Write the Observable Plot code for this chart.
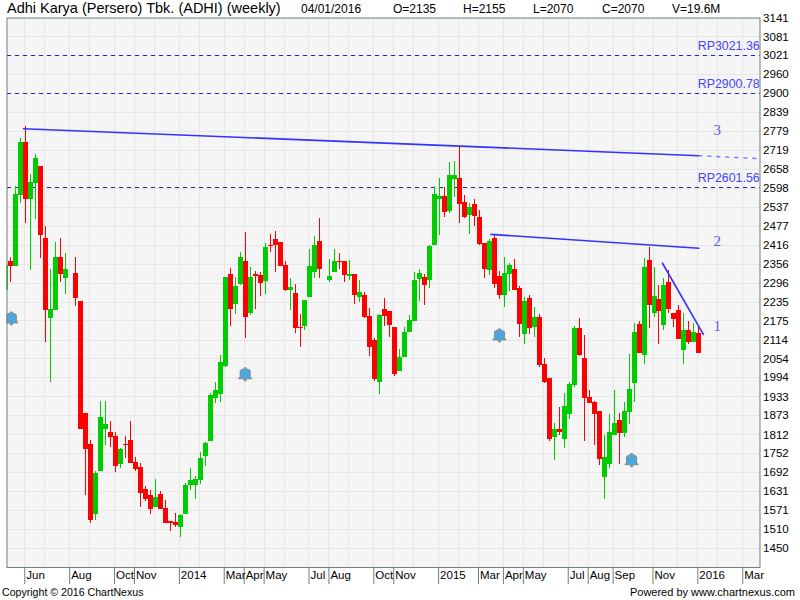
<!DOCTYPE html>
<html><head><meta charset="utf-8">
<script src="https://cdn.jsdelivr.net/npm/d3@7"></script>
<script src="https://cdn.jsdelivr.net/npm/@observablehq/plot@0.6"></script>
<style>
html,body{margin:0;padding:0;background:#fff;width:800px;height:600px;overflow:hidden;font-family:"Liberation Sans",Arial,sans-serif;color:#000}
#head{position:absolute;left:0;top:0;width:800px;height:17px;font-size:12px}
#head span{position:absolute;top:2px;white-space:nowrap;line-height:14px}
#head .t{font-size:14.5px;top:0;left:7px;line-height:17px}
#foot{position:relative;height:15px;font-size:11px}
#foot span{position:absolute;top:1px;white-space:nowrap;line-height:13px}
svg{display:block}
</style></head><body>
<div id="chart"></div><div id="head"></div>
<div id="foot"><span style="left:2px;font-size:10.6px">Copyright © 2016 ChartNexus</span><span style="right:5px">Powered by www.chartnexus.com</span></div>
<script>
// weekly candles; position k in each array is week k-1 (null = no candle drawn)
const opens=[2273,2365,2349,2576,2745,2563,2614,2668,2439,2183,
2209,2378,2311,null,2327,2238,1881,1782,1559,1696,
1830,1820,1807,1718,1782,1795,1724,1709,1638,1619,
1581,1622,1578,1536,1533,1517,1559,1651,1651,1667,
1744,1791,1928,1941,2030,2324,2228,2292,2365,2200,
2324,2321,2301,2416,2435,2426,2352,2273,2263,2155,
2158,2250,2330,2429,null,2305,2330,2365,2365,2317,
2324,2250,2257,2190,2113,1980,2212,2206,2155,2015,
2059,2139,2174,2308,2314,2305,2416,2563,2572,2525,
2627,2630,2553,2512,2547,2505,2423,2337,2439,2317,
2257,2324,2340,2279,2132,2247,2155,2187,2037,1992,
1804,1830,1798,1877,1970,2152,2056,1932,1916,1887,
1677,1718,1811,1858,1817,1884,1976,2164,2066,2368,
2200,2244,2161,2298,2200,2209,2081,2145,2107,2135];
const highs=[2352,2378,2604,2757,2796,2643,2706,2668,2477,2340,
2426,2439,2391,null,2378,2238,1881,1795,1696,1919,
1919,1855,1820,1769,1807,1855,1740,1721,1648,1635,
1670,1632,1603,1536,1562,1559,1657,1705,1680,1756,
1788,1944,1980,2066,2314,2343,2314,2394,2458,2346,
2333,2330,2423,2451,2461,2426,2365,2311,2292,2196,
2241,2403,2445,2502,null,2372,2403,2391,2365,2368,
2324,2305,2266,2215,2120,2196,2247,2206,2155,2085,
2155,2193,2330,2340,2324,2416,2604,2630,2601,2681,
2684,2732,2576,2550,2563,2528,2423,2435,2448,2333,
2378,2359,2372,2286,2250,2257,2219,2196,2056,1992,
1849,1900,1944,1980,2158,2183,2129,1954,1919,1887,
1811,1877,1954,1881,1916,2069,2168,2174,2375,2410,
2346,2289,2311,2337,2200,2225,2200,2174,2168,2155];
const lows=[2273,2298,2349,2550,2486,2337,2499,2375,2107,1980,
2209,2298,2260,null,2222,1830,1619,1530,1540,1696,
1779,1772,1693,1705,1737,1721,1696,1581,1600,1559,
1581,1575,1530,1504,1517,1485,1559,1635,1607,1654,
1712,1791,1912,1916,2027,2158,2196,2289,2120,2193,
2212,2254,2260,2394,2330,2349,2270,2209,2136,2091,
2145,2250,2311,2311,null,2298,2330,2340,2298,2305,
2228,2235,2183,2062,1983,1941,2158,2123,1999,2015,
2059,2139,2174,2238,2225,2279,2416,2448,2505,2518,
2569,2486,2502,2451,2477,2416,2311,2321,2279,2244,
2219,2270,2273,2123,2101,2132,2123,2027,1976,1791,
1731,1811,1769,1862,1964,2062,1791,1912,1779,1715,
1607,1705,1811,1718,1804,1846,1916,2072,2037,2152,
2187,2101,2145,2200,2155,2117,2037,2101,2107,2070];
const closes=[2352,2349,2579,2745,2563,2617,2694,2448,2209,2212,
2378,2324,2340,null,2247,1830,1766,1540,1689,1868,
1846,1804,1712,1766,1779,1721,1702,1626,1607,1575,
1613,1575,1530,1530,1524,1556,1651,1667,1670,1737,
1785,1938,1954,2043,2314,2212,2286,2378,2187,2314,
2317,2295,2410,2413,2416,2349,2273,2282,2152,2152,
2241,2349,2416,2340,null,2317,2365,2362,2321,2324,
2257,2266,2187,2091,1989,2193,2190,2161,2005,2059,
2139,2177,2305,2327,2289,2413,2579,2572,2521,2639,
2639,2547,2505,2537,2509,2419,2340,2429,2292,2257,
2327,2352,2273,2164,2238,2152,2187,2034,1980,1798,
1830,1820,1903,1973,2152,2066,1928,1912,1877,1734,
1740,1820,1849,1817,1887,1957,2139,2072,2346,2225,
2254,2206,2289,2212,2180,2117,2145,2107,2139,2070];

const candles=opens.map((open,k)=>({week:k-1,open,high:highs[k],low:lows[k],close:closes[k]})).filter(d=>d.open!=null);

const priceTicks=[3141,3081,3021,2960,2900,2839,2779,2719,2658,2598,2537,2477,2416,2356,2296,2235,2175,2114,2054,1994,1933,1873,1812,1752,1692,1631,1571,1510,1450];
const gridWeeks=[3,7,12,16,21,25,29,34,38,43,47,51,55,60,64,68,73,77,81,86,90,94,99,103,107,112,116,121,125,129,134,138,142,147];
const labelWeeks=[3,12,21,25,34,43,47,51,60,64,73,77,86,94,99,103,112,116,121,129,138,147];
const labelNames=["Jun","Aug","Oct","Nov","2014","Mar","Apr","May","Jul","Aug","Oct","Nov","2015","Mar","Apr","May","Jul","Aug","Sep","Nov","2016","Mar"];
const levels=[3021.36,2900.78,2601.56];
const trend3=[{x:2.54,y:2788},{x:138,y:2702}];
const trend3ext=[{x:138,y:2702},{x:149.7,y:2693}];
const trend2=[{x:96.3,y:2451},{x:138,y:2407}];
const trend1=[{x:130.7,y:2359},{x:138.9,y:2132}];
const trendLabels=[{x:141.7,y:2783,t:"3"},{x:141.7,y:2429,t:"2"},{x:141.7,y:2158,t:"1"}];
const bells=[{x:0.1,y:2183},{x:47,y:2005},{x:98,y:2129},{x:124.5,y:1731}];
const headItems=[["04/01/2016",301],["O=2135",393],["H=2155",463],["L=2070",533],["C=2070",602],["V=19.6M",672]];

const head=document.getElementById("head");
const tt=document.createElement("span");tt.className="t";tt.textContent="Adhi Karya (Persero) Tbk. (ADHI) (weekly)";head.append(tt);
for(const [s,l] of headItems){const e=document.createElement("span");e.textContent=s;e.style.left=l+"px";head.append(e);}

const bell={draw(c,size){
  const u=Math.sqrt(size/Math.PI)/7;
  c.moveTo(-1*u,-6.5*u);c.lineTo(1*u,-6.5*u);c.lineTo(1*u,-5*u);c.lineTo(3.5*u,-5*u);
  c.lineTo(5*u,-3.5*u);c.lineTo(5*u,2.5*u);c.lineTo(6.5*u,4*u);c.lineTo(6.5*u,4.5*u);c.lineTo(1*u,4.5*u);c.lineTo(1*u,6.5*u);c.lineTo(-1*u,6.5*u);c.lineTo(-1*u,4.5*u);
  c.lineTo(-6.5*u,4.5*u);c.lineTo(-6.5*u,4*u);c.lineTo(-5*u,2.5*u);c.lineTo(-5*u,-3.5*u);c.lineTo(-3.5*u,-5*u);c.lineTo(-1*u,-5*u);c.closePath();
}};
const dir=d=>d.close>=d.open?"up":"down";
const frameColor="#6f7f7f", gridColor="#e6e6e6", blue="#3333ff";
const chart=Plot.plot({
  width:800,height:585,marginLeft:6.5,marginRight:40.5,marginTop:17.5,marginBottom:18,
  style:{background:"#fff",fontFamily:"'Liberation Sans',Arial,sans-serif",fontSize:"12px",color:"#000"},
  x:{type:"linear",domain:[-0.77,150.26]},
  y:{type:"linear",domain:[1389,3141]},
  color:{type:"ordinal",domain:["up","down"],range:["#00cc00","#ff0000"]},
  marks:[
    Plot.frame({fill:"#f5f5f5",stroke:null}),
    Plot.gridY(priceTicks,{stroke:gridColor,strokeOpacity:1,strokeWidth:1,shapeRendering:"crispEdges"}),
    Plot.gridX(gridWeeks,{stroke:gridColor,strokeOpacity:1,strokeWidth:1,dx:-1,shapeRendering:"crispEdges"}),
    Plot.ruleY(levels,{stroke:"#2222cc",strokeDasharray:"4 4",strokeWidth:1,shapeRendering:"crispEdges"}),
    Plot.ruleX(candles,{x:"week",y1:"low",y2:"high",stroke:dir,strokeWidth:1,clip:"frame",shapeRendering:"crispEdges"}),
    Plot.ruleX(candles,{x:"week",y1:"open",y2:"close",stroke:dir,strokeWidth:5,clip:"frame",shapeRendering:"crispEdges"}),
    Plot.line(trend3,{x:"x",y:"y",stroke:blue,strokeWidth:1.6}),
    Plot.line(trend3ext,{x:"x",y:"y",stroke:"#7777ff",strokeWidth:1.4,strokeDasharray:"3 6"}),
    Plot.line(trend2,{x:"x",y:"y",stroke:blue,strokeWidth:1.6}),
    Plot.line(trend1,{x:"x",y:"y",stroke:blue,strokeWidth:1.6}),
    Plot.text(trendLabels,{x:"x",y:"y",text:"t",fill:"#5a5ae6",fontSize:15,fontFamily:"'Liberation Serif',serif"}),
    Plot.text(levels,{x:()=>150.2,y:d=>d,text:d=>"RP"+d,textAnchor:"end",dy:-9,fill:"#4444ff",fontSize:12.4}),
    Plot.dot(bells,{x:"x",y:"y",r:7,symbol:bell,fill:"#4ea6dc",stroke:"#7f8a8a",strokeWidth:1,clip:"frame"}),
    Plot.frame({stroke:frameColor,strokeWidth:1}),
    Plot.axisY({anchor:"right",ticks:priceTicks,tickSize:0,tickPadding:3,label:null,tickFormat:d=>String(d),fontSize:11.6,fill:"#000"}),
    Plot.axisX({anchor:"bottom",ticks:labelWeeks,tickSize:17,dx:-1,label:null,tickFormat:()=>"",stroke:frameColor}),
    Plot.axisX({anchor:"bottom",ticks:labelWeeks,tickSize:0,tickPadding:3,dx:0.5,label:null,textAnchor:"start",fontSize:11.5,fill:"#000",
      tickFormat:w=>labelNames[labelWeeks.indexOf(w)]})
  ]
});
document.getElementById("chart").append(chart);
</script>
</body></html>
